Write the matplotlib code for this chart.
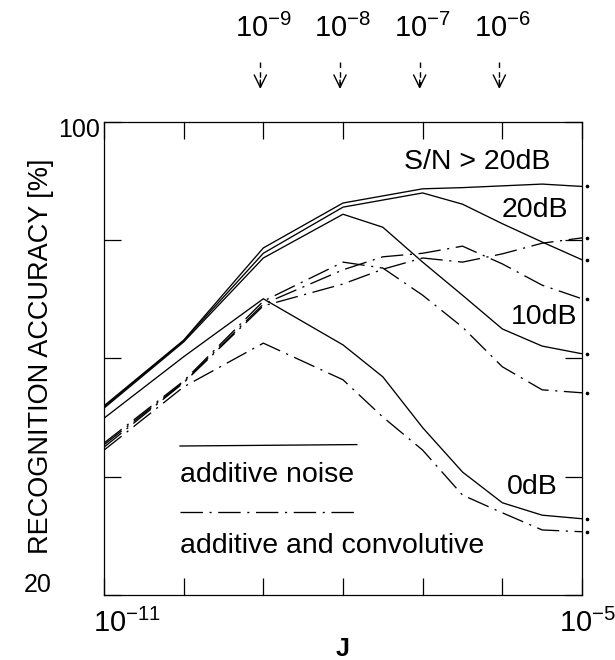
import numpy as np
import matplotlib
matplotlib.use('Agg')
import matplotlib.pyplot as plt
from matplotlib import transforms
from matplotlib.lines import Line2D

plt.rcParams['font.family'] = ['Liberation Sans', 'DejaVu Sans']
plt.rcParams['mathtext.fontset'] = 'custom'
plt.rcParams['mathtext.rm'] = 'Liberation Sans'
plt.rcParams['mathtext.it'] = 'Liberation Sans:italic'
plt.rcParams['mathtext.bf'] = 'Liberation Sans:bold'

# ---------------- data ----------------
J_exp = [-11, -10, -9, -8, -7.5, -7, -6.5, -6, -5.5, -5]

# additive noise (solid)
noise_gt20 = [52.0, 63.1, 78.7, 86.3, 87.5, 88.7, 88.9, 89.2, 89.5, 89.1]
noise_20 = [51.8, 63.0, 77.8, 85.6, 86.8, 88.0, 86.1, 82.8, 79.7, 76.7]
noise_10 = [51.6, 62.8, 77.0, 84.4, 82.2, 76.3, 70.7, 65.0, 62.1, 60.8]
noise_0 = [49.9, 60.3, 70.1, 62.3, 56.9, 48.3, 40.8, 35.6, 33.5, 32.9]

# additive and convolutive (dash-dot)
conv_gt20 = [45.0, 55.9, 68.9, 72.6, 75.1, 77.0, 76.3, 77.7, 79.5, 80.4]
conv_20 = [45.4, 56.0, 69.2, 75.0, 77.2, 77.8, 79.0, 76.0, 72.4, 70.1]
conv_10 = [45.7, 56.2, 69.7, 76.3, 75.3, 70.7, 65.3, 58.6, 54.7, 54.2]
conv_0 = [44.5, 55.2, 62.6, 56.4, 50.1, 44.5, 36.9, 33.9, 31.0, 30.7]

x_tick_exp = [-11, -10, -9, -8, -7, -6, -5]
x_tick_labels = [r'$\mathregular{10^{-11}}$', '', '', '', '', '', r'$\mathregular{10^{-5}}$']
y_ticks = [20, 40, 60, 80, 100]
y_tick_labels = ['20', '', '', '', '100']
top_exp = [-9, -8, -7, -6]
top_labels = [r'$\mathregular{10^{-9}}$', r'$\mathregular{10^{-8}}$',
              r'$\mathregular{10^{-7}}$', r'$\mathregular{10^{-6}}$']
curve_labels = ['S/N > 20dB', '20dB', '10dB', '0dB']
legend_labels = ['additive noise', 'additive and convolutive']

# ---------------- figure ----------------
fig = plt.figure(figsize=(6.15, 6.6), dpi=100)
ax = fig.add_axes([104 / 615, 1 - 595 / 660, 478 / 615, 473 / 660])

J = 10.0 ** np.array(J_exp)
lw = 0.95
dd = (0, (17, 5, 1.6, 5))

solid_sets = [noise_gt20, noise_20, noise_10, noise_0]
conv_sets = [conv_gt20, conv_20, conv_10, conv_0]
for s in solid_sets:
    ax.plot(J, s, color='black', lw=lw, solid_joinstyle='miter')
for s in conv_sets:
    ax.plot(J, s, color='black', lw=lw, linestyle=dd)

# small end dots just right of the frame
off = transforms.offset_copy(ax.transData, fig=fig, x=5, y=0, units='dots')
for s in solid_sets + conv_sets:
    ax.plot([J[-1]], [s[-1]], marker='o', ms=1.6, color='black', lw=0,
            transform=off, clip_on=False)

ax.set_xscale('log')
ax.set_xlim(1e-11, 1e-5)
ax.set_ylim(20, 100)
ax.set_xticks([10.0 ** e for e in x_tick_exp])
ax.set_xticklabels([''] * len(x_tick_exp))
ax.xaxis.set_minor_locator(matplotlib.ticker.NullLocator())
ax.set_yticks(y_ticks)
ax.set_yticklabels([''] * len(y_ticks))
ax.tick_params(direction='in', length=12, width=0.9, top=True, right=True)
for sp in ax.spines.values():
    sp.set_linewidth(0.9)

# tick labels drawn as text with the small shifts seen in the reference
xsize = 21
xt_shift = {0: 23, len(x_tick_exp) - 1: 6}
for i, (e, lab) in enumerate(zip(x_tick_exp, x_tick_labels)):
    if not lab:
        continue
    tr = transforms.blended_transform_factory(ax.transData, ax.transAxes)
    tr = tr + transforms.ScaledTranslation(xt_shift.get(i, 0) / 100, -14 / 100, fig.dpi_scale_trans)
    ax.text(10.0 ** e, 0, lab, transform=tr, ha='center', va='top', fontsize=xsize)

ysize = 18
yt_shift = {0: (-52, 10), len(y_ticks) - 1: (-4, -8)}
for i, (v, lab) in enumerate(zip(y_ticks, y_tick_labels)):
    if not lab:
        continue
    dx, dy = yt_shift.get(i, (-5, 0))
    tr = transforms.blended_transform_factory(ax.transAxes, ax.transData)
    tr = tr + transforms.ScaledTranslation(dx / 100, dy / 100, fig.dpi_scale_trans)
    ax.text(0, v, lab, transform=tr, ha='right', va='center', fontsize=ysize)

ax.set_ylabel('RECOGNITION ACCURACY [%]', fontsize=19.5)
ax.yaxis.set_label_coords(-0.105, 0.505)
ax.set_xlabel('J', fontsize=18, fontweight='bold')
ax.xaxis.set_label_coords(0.5, -0.088)

# top decade markers: label plus a thin dashed arrow
trf = transforms.blended_transform_factory(ax.transData, fig.transFigure)
for e, lab in zip(top_exp, top_labels):
    ax.text(10.0 ** e, 1 - 28 / 660, lab, transform=trf, ha='center', va='center',
            fontsize=21, clip_on=False)
    tra = trf + transforms.ScaledTranslation(-3 / 100, 0, fig.dpi_scale_trans)
    xa = 10.0 ** e
    ax.add_line(Line2D([xa, xa], [1 - 62 / 660, 1 - 86 / 660], transform=tra, color='black',
                       lw=1.0, linestyle=(0, (4, 3)), clip_on=False))
    ax.annotate('', xy=(xa, 1 - 89 / 660), xytext=(xa, 1 - 80 / 660),
                xycoords=tra, textcoords=tra, annotation_clip=False,
                arrowprops=dict(arrowstyle='->,head_length=0.45,head_width=0.22',
                                lw=1.0, color='black', mutation_scale=20,
                                shrinkA=0, shrinkB=0))

# curve labels
fs = 20.5
ax.text(0.933, 0.915, curve_labels[0], transform=ax.transAxes, ha='right', va='center', fontsize=fs)
ax.text(0.971, 0.814, curve_labels[1], transform=ax.transAxes, ha='right', va='center', fontsize=fs)
ax.text(0.990, 0.588, curve_labels[2], transform=ax.transAxes, ha='right', va='center', fontsize=fs)
ax.text(0.948, 0.228, curve_labels[3], transform=ax.transAxes, ha='right', va='center', fontsize=fs)

# hand-drawn legend
ax.add_line(Line2D([0.159, 0.529], [0.315, 0.318], transform=ax.transAxes, color='black', lw=lw))
ax.text(0.159, 0.254, legend_labels[0], transform=ax.transAxes, ha='left', va='center', fontsize=fs)
ax.add_line(Line2D([0.159, 0.529], [0.175, 0.175], transform=ax.transAxes, color='black', lw=lw,
                   linestyle=dd))
ax.text(0.159, 0.104, legend_labels[1], transform=ax.transAxes, ha='left', va='center', fontsize=fs)

fig.savefig('out.png', dpi=100)
